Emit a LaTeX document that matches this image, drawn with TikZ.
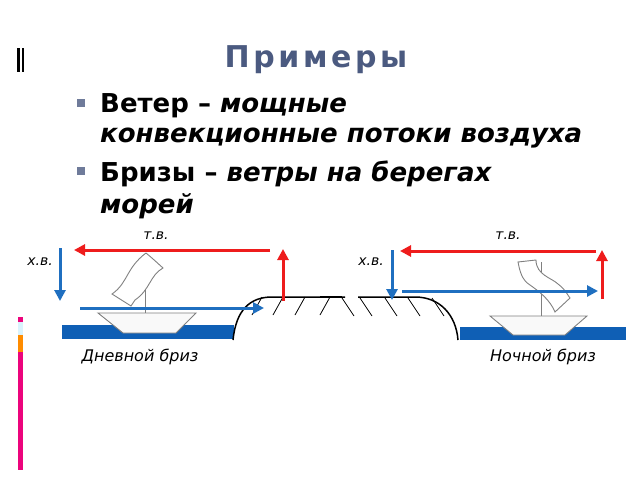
\documentclass[tikz,border=0pt]{standalone}
\usepackage{fontspec}
\setmainfont{DejaVu Sans}
\newfontfamily\titlefont[LetterSpace=12]{DejaVu Sans}
\usetikzlibrary{arrows.meta,positioning}
\definecolor{hot}{HTML}{EE1C1C}
\definecolor{cold}{HTML}{1F6FC0}
\definecolor{sea}{HTML}{0F5FB5}
\definecolor{head}{HTML}{4B5A80}
\tikzset{
  hotwind/.style={draw=hot,line width=3pt,-{Triangle[length=11pt,width=11pt]}},
  coldwind/.style={draw=cold,line width=3pt,-{Triangle[length=11pt,width=11pt]}},
  water/.style={fill=sea,draw=sea},
  hull/.style={fill=white!95!gray,draw=gray,line width=0.9pt},
  lbl/.style={font=\itshape\fontsize{14}{16}\selectfont},
  caption/.style={font=\itshape\fontsize{16}{18}\selectfont},
  body/.style={font=\bfseries\fontsize{26}{30}\selectfont,anchor=west,inner sep=0pt},
}
\begin{document}
\begin{tikzpicture}[x=1pt,y=-1pt]
\useasboundingbox (0,0) rectangle (640,480);

% title and bullets
\node[text=head,font=\titlefont\bfseries\fontsize{30}{34}\selectfont] (title) at (316,60) {Примеры};
\fill[black] (17,48) rectangle (20,72);
\fill[black] (22,48) rectangle (24,72);
\fill[head!80] (77,99) rectangle (85,107);
\fill[head!80] (77,167) rectangle (85,175);
\node[body] (t1) at (100,106) {Ветер – \itshape мощные};
\node[body] (t2) at (100,138) {\itshape конвекционные потоки воздуха};
\node[body] (t3) at (100,174) {Бризы – \itshape ветры на берегах};
\node[body] (t4) at (100,206) {\itshape морей};

% side strip
\fill[magenta!85!red] (18,317) rectangle (23,322);
\fill[cyan!15] (18,322) rectangle (23,335);
\fill[orange!90!yellow] (18,335) rectangle (23,352);
\fill[magenta!85!red] (18,352) rectangle (23,470);

% day breeze
\fill[water] (62,325) rectangle (233,338);
\draw[hull] (98,313) -- (196,313) -- (176,333) -- (123,333) -- cycle;
\draw[gray,line width=0.9pt] (145,254) -- (145,313);
\draw[gray,line width=0.9pt,fill=white] (146,253) .. controls (152,258) .. (163,268) .. controls (150,275) and (150,290) .. (135,300)
  -- (131,306) -- (112,294) .. controls (128,283) and (126,268) .. (146,253);
\draw[black,line width=1.5pt] (233,340) .. controls (236,310) and (250,297) .. (272,297) -- (345,297);
\foreach \x in {262,283,305,330} \draw[line width=0.8pt] (\x,297) -- (\x-10,315);
\coordinate (dh1) at (270,250); \coordinate (dh2) at (74,250);
\coordinate (du1) at (283,301); \coordinate (du2) at (283,249);
\coordinate (dc1) at (60,248); \coordinate (dc2) at (60,301);
\coordinate (dl1) at (80,308); \coordinate (dl2) at (264,308);
\draw[hotwind] (dh1) -- (dh2);
\draw[hotwind] (du1) -- (du2);
\draw[coldwind] (dc1) -- (dc2);
\draw[coldwind] (dl1) -- (dl2);
\node[lbl] (dtv) at (156,236) {т.в.};
\node[lbl] (dxv) at (40,262) {х.в.};
\node[caption] (day) at (140,357) {Дневной бриз};

% night breeze
\fill[water] (460,327) rectangle (625,339);
\draw[hull] (490,316) -- (587,316) -- (565,335) -- (513,335) -- cycle;
\draw[gray,line width=0.9pt] (541,262) -- (541,316);
\draw[gray,line width=0.9pt,fill=white] (518,262) -- (536,260)
  .. controls (536,275) and (552,278) .. (558,284) .. controls (566,290) and (568,296) .. (570,298)
  -- (555,312) .. controls (550,300) and (540,292) .. (530,285) .. controls (522,280) and (520,272) .. (518,262) -- cycle;
\draw[black,line width=1.2pt] (320,297) -- (342,297);
\draw[black,line width=1.5pt] (358,297) -- (415,297) .. controls (440,297) and (456,315) .. (458,340);
\foreach \x in {342,360,385,408,432} \draw[line width=0.8pt] (\x,298) -- (\x+12,316);
\coordinate (nh1) at (596,251); \coordinate (nh2) at (400,251);
\coordinate (nu1) at (602,299); \coordinate (nu2) at (602,250);
\coordinate (nc1) at (392,250); \coordinate (nc2) at (392,300);
\coordinate (nl1) at (402,291); \coordinate (nl2) at (598,291);
\draw[hotwind] (nh1) -- (nh2);
\draw[hotwind] (nu1) -- (nu2);
\draw[coldwind] (nc1) -- (nc2);
\draw[coldwind] (nl1) -- (nl2);
\node[lbl] (ntv) at (508,236) {т.в.};
\node[lbl] (nxv) at (371,262) {х.в.};
\node[caption] (night) at (543,357) {Ночной бриз};
\end{tikzpicture}
\end{document}
